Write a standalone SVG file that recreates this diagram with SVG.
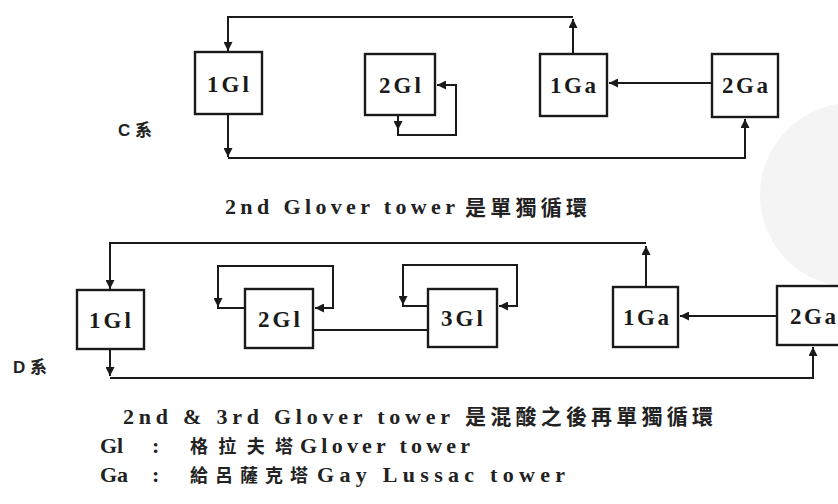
<svg xmlns="http://www.w3.org/2000/svg" width="838" height="504" viewBox="0 0 838 504">
<defs>
<marker id="ah" viewBox="0 0 10 10" refX="10" refY="5" markerWidth="9" markerHeight="9" markerUnits="userSpaceOnUse" orient="auto">
<path d="M0,0 L10,5 L0,10 z" fill="#1a1a1a"/>
</marker>
<style>
.box{fill:#fff;stroke:#1a1a1a;stroke-width:2.4}
.ln{fill:none;stroke:#1a1a1a;stroke-width:2}
.arr{fill:none;stroke:#1a1a1a;stroke-width:2;marker-end:url(#ah)}
.lbl{font-family:"Liberation Serif",serif;font-weight:bold;font-size:23px;fill:#1a1a1a;text-anchor:middle}
.en{font-family:"Liberation Serif",serif;font-weight:bold;font-size:22px;fill:#222}
.cjk{font-family:"Noto Sans CJK TC",sans-serif;font-weight:bold;font-size:21px;fill:#222}
.lg{font-family:"Noto Sans CJK TC",sans-serif;font-weight:bold;font-size:18px;fill:#222}
.sys{font-family:"Liberation Sans","Noto Sans CJK TC",sans-serif;font-weight:bold;font-size:17px;fill:#222}
</style>
</defs>
<rect width="838" height="504" fill="#fff"/>
<circle cx="852" cy="195" r="92" fill="#f4f4f4"/>

<g id="connectors">
<!-- C system -->
<path class="arr" d="M573,54 V19"/>
<path class="arr" d="M573,17 H228 V51"/>
<path class="arr" d="M228,114 V157"/>
<path class="arr" d="M228,158 H745 V119"/>
<path class="arr" d="M398,115 V130"/>
<path class="arr" d="M398,128 V135 H456 V85 H437"/>
<path class="arr" d="M712,83 H609"/>
<!-- D system -->
<path class="arr" d="M646,287 V246"/>
<path class="arr" d="M646,243 H110 V289"/>
<path class="arr" d="M110,349 V376"/>
<path class="arr" d="M110,378 H813 V347"/>
<path class="ln" d="M245,308 H218 V266 H333 V308 H315"/>
<path class="arr" d="M218,290 V307"/>
<path class="arr" d="M333,308 H315"/>
<path class="ln" d="M428,306 H403 V265 H517 V306 H499"/>
<path class="arr" d="M403,290 V305"/>
<path class="arr" d="M517,306 H499"/>
<path class="ln" d="M313,330 H428"/>
<path class="arr" d="M777,316 H680"/>
</g>

<g id="C-1Gl"><rect class="box" x="195" y="52" width="67" height="62"/><text class="lbl" x="228" y="92" textLength="42" lengthAdjust="spacing">1Gl</text></g>
<g id="C-2Gl"><rect class="box" x="365" y="54" width="70" height="61"/><text class="lbl" x="400" y="93" textLength="42" lengthAdjust="spacing">2Gl</text></g>
<g id="C-1Ga"><rect class="box" x="540" y="54" width="67" height="62"/><text class="lbl" x="573" y="93" textLength="46" lengthAdjust="spacing">1Ga</text></g>
<g id="C-2Ga"><rect class="box" x="712" y="54" width="66" height="63"/><text class="lbl" x="745" y="93" textLength="46" lengthAdjust="spacing">2Ga</text></g>

<g id="D-1Gl"><rect class="box" x="77" y="290" width="67" height="59"/><text class="lbl" x="110" y="328" textLength="42" lengthAdjust="spacing">1Gl</text></g>
<g id="D-2Gl"><rect class="box" x="245" y="289" width="68" height="59"/><text class="lbl" x="279" y="327" textLength="42" lengthAdjust="spacing">2Gl</text></g>
<g id="D-3Gl"><rect class="box" x="428" y="289" width="69" height="58"/><text class="lbl" x="462" y="326" textLength="42" lengthAdjust="spacing">3Gl</text></g>
<g id="D-1Ga"><rect class="box" x="613" y="287" width="65" height="60"/><text class="lbl" x="646" y="325" textLength="46" lengthAdjust="spacing">1Ga</text></g>
<g id="D-2Ga"><rect class="box" x="777" y="286" width="70" height="59"/><text class="lbl" x="813" y="324" textLength="46" lengthAdjust="spacing">2Ga</text></g>

<g id="labels">
<text class="sys" x="118" y="136">C 系</text>
<text class="sys" x="13" y="373">D 系</text>
<text class="en" x="225" y="214" textLength="230" lengthAdjust="spacing">2nd Glover tower</text>
<text class="cjk" x="465" y="215" textLength="122" lengthAdjust="spacing">是單獨循環</text>
<text class="en" x="123" y="424" textLength="327" lengthAdjust="spacing">2nd &amp; 3rd Glover tower</text>
<text class="cjk" x="465" y="424" textLength="248" lengthAdjust="spacing">是混酸之後再單獨循環</text>
<text class="en" x="100" y="453">Gl</text>
<text class="en" x="152" y="453">:</text>
<text class="lg" x="190" y="453" textLength="103" lengthAdjust="spacing">格拉夫塔</text>
<text class="en" x="300" y="453" textLength="170" lengthAdjust="spacing">Glover tower</text>
<text class="en" x="100" y="482">Ga</text>
<text class="en" x="152" y="482">:</text>
<text class="lg" x="190" y="482" textLength="118" lengthAdjust="spacing">給呂薩克塔</text>
<text class="en" x="317" y="482" textLength="248" lengthAdjust="spacing">Gay Lussac tower</text>
</g>
</svg>
